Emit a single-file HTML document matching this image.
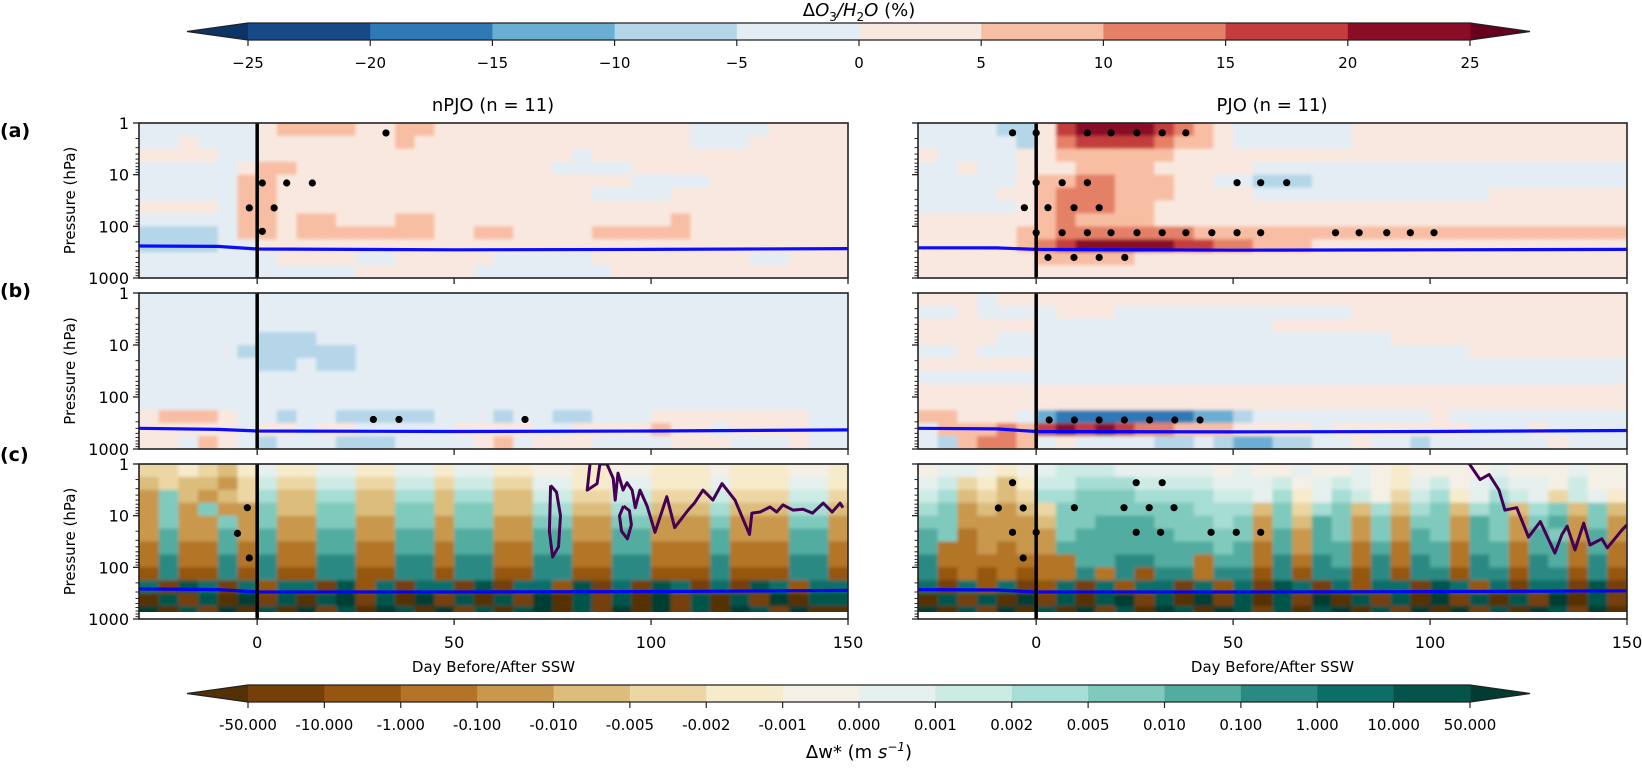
<!DOCTYPE html>
<html><head><meta charset="utf-8">
<style>
html,body{margin:0;padding:0;background:#fff;}
svg{display:block;font-family:"DejaVu Sans","Liberation Sans",sans-serif;}
</style></head>
<body>
<svg id="fig" width="1642" height="768" viewBox="0 0 1642 768" xmlns="http://www.w3.org/2000/svg">
<defs>
<filter id="soft" x="-5%" y="-5%" width="110%" height="110%"><feGaussianBlur stdDeviation="1.6"/></filter>
</defs>
</svg>
<script>
// ---------- colour scales ----------
const rdbuColors = ["#0b3565","#164a86","#2f79b5","#6aaed3","#b4d6e8","#e4edf4","#f9e8df","#f8bea3","#e48066","#c43c3c","#8a0c25","#67001f"];
const rdbuTicks = ["\u221225","\u221220","\u221215","\u221210","\u22125","0","5","10","15","20","25"];
const brbgColors = ["#543005","#744008","#955610","#b37427","#c9984d","#dcbd7c","#ecd7a4","#f6ebca","#f5f0e6","#e6f0ee","#cdebe5","#a6ddd4","#7fcabd","#52aca0","#2a8a83","#0c6f67","#05544b","#003c30"];
const brbgTicks = ["-50.000","-10.000","-1.000","-0.100","-0.010","-0.005","-0.002","-0.001","0.000","0.001","0.002","0.005","0.010","0.100","1.000","10.000","50.000"];
const RD_KEY = "0123456789ab";
const BR_KEY = "0123456789abcdefgh";

// ---------- axes data ----------
const xTicks = [0, 50, 100, 150];
const yMajor = [1, 10, 100, 1000];
const dayStart = -30, dayEnd = 150, dayStep = 5;

// ---------- gridded fields (rows = 0.25-decade pressure bands from 1 hPa; cols = 5-day bins from day -30) ----------
const gridA_n = [
"555555677776677666666666666655556666",
"556555666666676666666666666655566666",
"666655666666666666666656666666666666",
"555556776666666666666555566666666666",
"555557766666666666666666655556666666",
"555557766666666666666665555666666666",
"666657766666666666666666666666666666",
"555557767766677666666666666766666666",
"444457767777777667766667777766666666",
"444455666666666666666666666666666666",
"555555566665566666555556666666655666",
"555555555556666665555555666666666666"];
const gridA_p = [
"55554469aaaa98765555556666666666666",
"5555546899998776555555666666666666666",
"6555566777777666666666666666666666666",
"5565566677776666655555555555555555555",
"5555567788777665544455555555555555555",
"5555667888777666655555555555566666666",
"5555567888776666666666666666666666666",
"6666667877776666666666666666666666666",
"6666677888888877777777777777777777776",
"66666789aaaaa9988777666666666666666666",
"6666667777766666666666666666666666666",
"6666666666666666666666666666666666666"];
const gridB_n = [
"555555555555555555555555555555555555",
"555555555555555555555555555555555555",
"555555555555555555555555555555555555",
"555555444555555555555555555555555555",
"555554444445555555555555555555555555",
"555555445445555555555555555555555555",
"555555555555555555555555555555555555",
"555555555555555555555555555555555555",
"555555555555555555555555555555555555",
"677765545544444555455445556666666655",
"666665665665555566665566667665666655",
"665765455544455556756665555666555655"];
const gridB_p = [
"666566666666666666666666666666666666",
"556555566655555555555566666666666666",
"666666555555555555666666666666666666",
"666655555555555555555555666666666666",
"556555555555555555555555555566666666",
"666666555555555555555555555555555555",
"555555555555555555555555555555555555",
"666666666666666666666666666666666666",
"666666666666666666666666666666666666",
"776665322222223345555555556555555555",
"5777879a9a98877766665666666655565555",
"547887565555445433445565545555556555"];
const gridC_n = [
"667657977997799799778877887778777887",
"565546a66aa66aa6aa669977997779777997",
"4c5456b55bb55bb5bb55aa66aa666a666aa6",
"4c4c44c55cc55cc5cc55bb55bb555b555bb5",
"4c44c4c44cc44cc4cc44cc44cc444c444cc4",
"4d44d4d44dd44dd4dd44dd44dd444d444dd4",
"3d33d3d33dd33dd3dd33dd33dd333d333dd3",
"3e33e3e33ee33ee3ee33ee33ee333e333ee3",
"2e22e2e22ee22ee2ee22ee22ee222e222ee2",
"f1gf1f2ff1g2f1ff1g1ff2g1f1gf1f1gf2f",
"0g1g0h1g0gh1g0h1g0g1h0g1g0h1g0g1h0g",
"h0g1h0g0h1g0hg0h1g0gh0g1h0h1g0hg1h0"];
const gridC_p = [
"8998789aaa99999898898898788889888988",
"9a6757aabbbaaaa999a89a9879a89a998a88",
"ab5656bbcccbbbbaa9b79ba86ab79ba96a97",
"bc45456cccccccbbb5c6bc5b5bc5bc5bc5c5",
"cc44445ccdddcccbc4c5dc4c4cc4dc4cd4c4",
"dc34444cdddddcccc4d4dc4c4dc4dc4dc4d4",
"d334344ddddddddcd3d4dd3d3dd3dd3dd3d3",
"e3333333ddeedd3dd3e3ed3e3ed3ed3ed3e3",
"e2323233e3e2ee3ee2e2ee2e2ee2ee2ee2e2",
"f1f2f12f1f2ff1f2f1gf1f2ff1gf2f1ff1g1",
"0g1g0h1g0gh1g0h1g0g1h0g1g0h1g0g1h0g1",
"h0g1h0g0h1g0hg0hg1g0gh0g1h0h1g0hg1h0"];

// ---------- tropopause lines (day, hPa) ----------
const tropoDays = [-30, -10, 0, 50, 100, 150];
const tropoA_n = [240, 245, 275, 285, 280, 270];
const tropoA_p = [260, 262, 280, 290, 285, 280];
const tropoB_n = [400, 420, 450, 460, 450, 430];
const tropoB_p = [400, 410, 460, 470, 460, 440];
const tropoC_n = [262, 270, 300, 300, 295, 280];
const tropoC_p = [270, 275, 300, 300, 295, 285];

// ---------- w* = 0 contours (day, hPa) ----------
const contN_days = [84.5,83.8,86.3,87,88.8,90.4,90.9,91.6,92.9,93.9,95.2,96,97.2,99,101,104,106,109.4,111,113.2,115.7,118,121.3,125,125.6,127.7,130.2,131.9,133.5,136,138.6,141,143.7,146,148,148.7];
const contN_p = [1,3.2,2.4,1,1,1.9,5,1.5,3.2,2.3,3.2,7,3.2,6.5,21,4.3,17,7.8,5.7,3.2,5,2.4,5,23,8.9,8.5,6.8,8.5,6.2,7.8,7.5,8.9,5.7,8.5,5.7,7];
const loopN1_days = [74.5,76,77,76.5,75,74.2,74.5];
const loopN1_p = [2.6,3.5,10,40,63,20,2.6];
const loopN2_days = [93,94.5,95,94,92.5,92,93];
const loopN2_p = [6.5,8,15,28,20,10,6.5];
const contP_days = [110,112.7,115,117.5,119,122,125,128,131.7,133.5,134.8,136.8,139,140.6,143.6,145,148.7,150];
const contP_p = [1,2,1.6,3.2,7.8,7,26,13,53,23,16,46,14,37,28,42,19,15];

// ---------- significance dots ----------
const dotsA_n_days = [32.7,1.3,7.5,14,-2,4.3,1.3];
const dotsA_n_p = [1.56,14.5,14.5,14.5,44,44,125];
const dotsA_p_days = [-6,0,13,19,25.6,32,38,0,6.6,13,51,57,63.6,-3,3,9.6,16,0,6.6,13,19,25.6,32,38,44.6,51,57,76,82,89,95,101,3,9.6,16,22.5];
const dotsA_p_p = [1.55,1.55,1.55,1.55,1.55,1.55,1.55,14.3,14.3,14.3,14.3,14.3,14.3,43.6,43.6,43.6,43.6,133,133,133,133,133,133,133,133,133,133,133,133,133,133,133,400,400,400,400];
const dotsB_n_days = [29.5,36,68];
const dotsB_n_p = [270,270,270];
const dotsB_p_days = [3.3,9.7,16,22.4,28.8,35.2,41.6];
const dotsB_p_p = [277,277,277,277,277,277,277];
const dotsC_n_days = [-2.5,-5,-2];
const dotsC_n_p = [7,22,66];
const dotsC_p_days = [-6,-9.6,-3.3,-6,0,-3.3,25.4,32,9.7,22.3,28.7,35,25.4,31.6,44.4,50.8,57];
const dotsC_p_p = [2.3,7.1,7.1,21,21,66,2.3,2.3,7,7,7,7,21,21,21,21,21];

// ---------- layout ----------
const svg = document.getElementById('fig');
const NS = "http://www.w3.org/2000/svg";
const PX = [139, 918], PW = 709;
const PT = [123, 293, 464], PH = [155, 156, 155];
function xScale(col, d){ return PX[col] + (d - dayStart) / (dayEnd - dayStart) * PW; }
function yScale(row, p){ return PT[row] + Math.log10(p) / 3 * PH[row]; }
function mk(tag, attrs, parent){ const e = document.createElementNS(NS, tag); for (const k in attrs) e.setAttribute(k, attrs[k]); (parent||svg).appendChild(e); return e; }
function txt(x, y, s, size, anchor, parent, extra){ const t = mk('text', Object.assign({x:x, y:y, 'font-size':size, 'text-anchor':anchor||'middle', fill:'#000'}, extra||{}), parent); t.textContent = s; return t; }

// ---------- colorbar ----------
function colorbar(y0, colors, ticks, name, labelY, labelSize){
  const g = mk('g', {});
  
  
  const x0 = 248, x1 = 1470, h = 17, n = colors.length - 2;
  const w = (x1 - x0) / n;
  mk('polygon', {points:`${x0},${y0} ${x0},${y0+h} 187,${y0+h/2}`, fill:colors[0]}, g);
  mk('polygon', {points:`${x1},${y0} ${x1},${y0+h} 1530,${y0+h/2}`, fill:colors[colors.length-1]}, g);
  for (let i = 0; i < n; i++) mk('rect', {x:x0+i*w, y:y0, width:w+0.5, height:h, fill:colors[i+1]}, g);
  mk('polygon', {points:`187,${y0+h/2} ${x0},${y0} ${x1},${y0} 1530,${y0+h/2} ${x1},${y0+h} ${x0},${y0+h}`, fill:'none', stroke:'#222', 'stroke-width':1.3}, g);
  ticks.forEach((t, i) => {
    const x = x0 + i * w;
    mk('line', {x1:x, x2:x, y1:y0+h, y2:y0+h+6, stroke:'#222', 'stroke-width':1.2}, g);
    const tl = txt(x, labelY, t, labelSize, 'middle', g);
    
    
  });
  return g;
}
colorbar(23, rdbuColors, rdbuTicks, 'ozone-colorbar', 68, 15);
colorbar(685, brbgColors, brbgTicks, 'wstar-colorbar', 730, 15);

const t1 = mk('text', {x:859, y:16, 'font-size':18, 'text-anchor':'middle'});


t1.innerHTML = 'Δ<tspan font-style="italic">O</tspan><tspan font-size="12" dy="5">3</tspan><tspan dy="-5" font-style="italic">/H</tspan><tspan font-size="12" dy="5">2</tspan><tspan dy="-5" font-style="italic">O</tspan> (%)';
const t2 = mk('text', {x:859, y:758, 'font-size':18, 'text-anchor':'middle'});


t2.innerHTML = 'Δw* (m <tspan font-style="italic">s</tspan><tspan font-size="12" dy="-7" font-style="italic">−1</tspan><tspan dy="7">)</tspan>';

// column titles
const ct1 = txt(493, 111, 'nPJO (n = 11)', 18);


const ct2 = txt(1272, 111, 'PJO (n = 11)', 18);



// row labels
[['(a)', 137], ['(b)', 297], ['(c)', 461]].forEach(([s, y]) => {
  const t = txt(0, y, s, 19, 'start', null, {'font-weight':'bold'});
  
  
});

// ---------- panels ----------
const panels = [
  {row:0, col:0, grid:gridA_n, key:RD_KEY, pal:rdbuColors, tropo:tropoA_n, dd:dotsA_n_days, dp:dotsA_n_p, name:'npjo-ozone-panel'},
  {row:0, col:1, grid:gridA_p, key:RD_KEY, pal:rdbuColors, tropo:tropoA_p, dd:dotsA_p_days, dp:dotsA_p_p, name:'pjo-ozone-panel'},
  {row:1, col:0, grid:gridB_n, key:RD_KEY, pal:rdbuColors, tropo:tropoB_n, dd:dotsB_n_days, dp:dotsB_n_p, name:'npjo-water-vapour-panel'},
  {row:1, col:1, grid:gridB_p, key:RD_KEY, pal:rdbuColors, tropo:tropoB_p, dd:dotsB_p_days, dp:dotsB_p_p, name:'pjo-water-vapour-panel'},
  {row:2, col:0, grid:gridC_n, key:BR_KEY, pal:brbgColors, tropo:tropoC_n, dd:dotsC_n_days, dp:dotsC_n_p, name:'npjo-wstar-panel', pmax:730,
    conts:[[contN_days, contN_p],[loopN1_days, loopN1_p],[loopN2_days, loopN2_p]]},
  {row:2, col:1, grid:gridC_p, key:BR_KEY, pal:brbgColors, tropo:tropoC_p, dd:dotsC_p_days, dp:dotsC_p_p, name:'pjo-wstar-panel', pmax:730,
    conts:[[contP_days, contP_p]]}
];

panels.forEach((P, pi) => {
  const r = P.row, c = P.col;
  const x0 = PX[c], y0 = PT[r], h = PH[r];
  const g = mk('g', {});
  
  
  const cid = 'clip' + pi;
  const cp = mk('clipPath', {id:cid}, g);
  const pBottom = P.pmax ? yScale(r, P.pmax) : y0 + h;
  mk('rect', {x:x0, y:y0, width:PW, height:pBottom - y0}, cp);
  const clipG = mk('g', {'clip-path':`url(#${cid})`}, g);
  const heat = mk('g', {filter:'url(#soft)'}, clipG);
  
  
  const nCols = (dayEnd - dayStart) / dayStep;
  P.grid.forEach((rowStr, ri) => {
    const yt = yScale(r, Math.pow(10, ri / 4)), yb = yScale(r, Math.pow(10, (ri + 1) / 4));
    for (let k = 0; k < nCols; k++) {
      const ch = rowStr[Math.min(k, rowStr.length - 1)];
      const idx = Math.max(0, P.key.indexOf(ch));
      const xl = xScale(c, dayStart + k * dayStep), xr = xScale(c, dayStart + (k + 1) * dayStep);
      const xa = k === 0 ? xl - 8 : xl, xb = k === nCols - 1 ? xr + 8 : xr;
      const ya = ri === 0 ? yt - 8 : yt, yb2 = ri === P.grid.length - 1 ? yb + 8 : yb;
      const cell = mk('rect', {x:xa, y:ya, width:xb - xa + 0.6, height:yb2 - ya + 0.6, fill:P.pal[idx]}, heat);
      
      
    }
  });
  // contours
  (P.conts || []).forEach(([ds, ps]) => {
    const pts = ds.map((d, i) => `${xScale(c, d).toFixed(1)},${yScale(r, ps[i]).toFixed(1)}`).join(' ');
    const pl = mk('polyline', {points:pts, fill:'none', stroke:'#440154', 'stroke-width':3, 'stroke-linejoin':'round'}, clipG);
    
    
  });
  // dots
  P.dd.forEach((d, i) => {
    const dot = mk('circle', {cx:xScale(c, d), cy:yScale(r, P.dp[i]), r:3.6, fill:'#000'}, clipG);
    
    
  });
  // tropopause
  const tp = tropoDays.map((d, i) => `${xScale(c, d).toFixed(1)},${yScale(r, P.tropo[i]).toFixed(1)}`).join(' ');
  const tl = mk('polyline', {points:tp, fill:'none', stroke:'#0000ff', 'stroke-width':3.2, 'stroke-opacity':0.95}, clipG);
  
  
  // SSW onset line
  const sl = mk('line', {x1:xScale(c, 0), x2:xScale(c, 0), y1:y0, y2:y0 + h, stroke:'#000', 'stroke-width':3.5}, g);
  
  
  // frame
  const fr = mk('rect', {x:x0, y:y0, width:PW, height:h, fill:'none', stroke:'#222', 'stroke-width':1.6}, g);
  
  
  // x ticks
  xTicks.forEach(d => {
    const x = xScale(c, d);
    mk('line', {x1:x, x2:x, y1:y0 + h, y2:y0 + h + 6, stroke:'#222', 'stroke-width':1.3}, g);
    if (r === 2) {
      const lab = txt(x, y0 + h + 29, String(d), 16, 'middle', g);
      
      
    }
  });
  // y ticks
  yMajor.forEach(p => {
    const y = yScale(r, p);
    mk('line', {x1:x0 - 6, x2:x0, y1:y, y2:y, stroke:'#222', 'stroke-width':1.3}, g);
    if (c === 0) {
      const lab = txt(x0 - 10, y + 6, String(p), 16, 'end', g);
      
      
    }
  });
  for (let dec = 0; dec < 3; dec++) for (let m = 2; m <= 9; m++) {
    const y = yScale(r, m * Math.pow(10, dec));
    mk('line', {x1:x0 - 3.5, x2:x0, y1:y, y2:y, stroke:'#222', 'stroke-width':1}, g);
  }
  if (c === 0) {
    const yl = txt(0, 0, 'Pressure (hPa)', 15, 'middle', g, {transform:`translate(75,${y0 + h / 2}) rotate(-90)`});
    
    
  }
  if (r === 2) {
    const xl = txt(x0 + PW / 2, 672, 'Day Before/After SSW', 15, 'middle', g);
    
    
  }
});
</script>
</body></html>
